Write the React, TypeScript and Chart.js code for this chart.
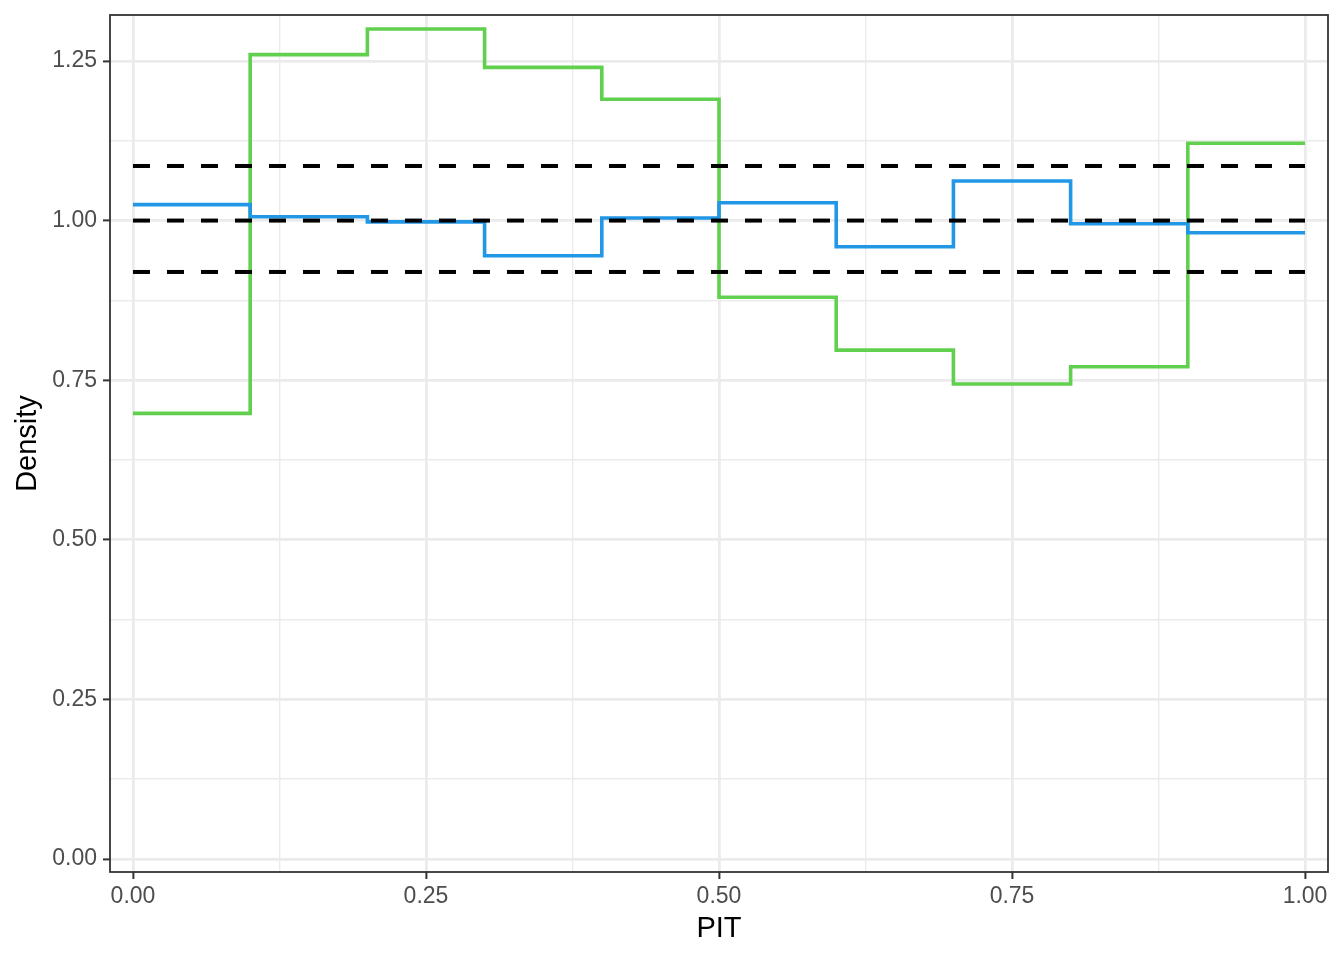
import React, { useEffect, useRef } from "react";
import { Chart, registerables } from "chart.js";

Chart.register(...registerables);

// Bin edges of the PIT histogram
const pitBreaks = [0, 0.1, 0.2, 0.3, 0.4, 0.5, 0.6, 0.7, 0.8, 0.9, 1.0];
// Densities per bin (10 bins)
const greenDensity = [0.698, 1.26, 1.30, 1.24, 1.19, 0.88, 0.797, 0.744, 0.771, 1.121];
const blueDensity = [1.025, 1.006, 0.998, 0.945, 1.004, 1.028, 0.959, 1.062, 0.995, 0.981];
// Reference lines
const refLevels = [1.0855, 1.0, 0.9195];

const xTicks = [0, 0.125, 0.25, 0.375, 0.5, 0.625, 0.75, 0.875, 1.0];
const yTicks = [0, 0.125, 0.25, 0.375, 0.5, 0.625, 0.75, 0.875, 1.0, 1.125, 1.25];

const isMajor = (v: number) => Math.abs(v / 0.25 - Math.round(v / 0.25)) < 1e-6;

function stepPoints(vals: number[]) {
  const pts = vals.map((v, i) => ({ x: pitBreaks[i], y: v }));
  pts.push({ x: pitBreaks[pitBreaks.length - 1], y: vals[vals.length - 1] });
  return pts;
}

const borderPlugin = {
  id: "panelBorder",
  afterDraw(chart: any) {
    const { ctx, chartArea } = chart;
    ctx.save();
    ctx.strokeStyle = "#333333";
    ctx.lineWidth = 1.8;
    ctx.strokeRect(chartArea.left, chartArea.top, chartArea.right - chartArea.left, chartArea.bottom - chartArea.top);
    ctx.restore();
  },
};

export default function App() {
  const ref = useRef<HTMLCanvasElement>(null);
  useEffect(() => {
    if (!ref.current) return;
    const tickFont = { family: "'Liberation Sans', Arial, sans-serif", size: 23 };
    const titleFont = { family: "'Liberation Sans', Arial, sans-serif", size: 29 };
    const gridCommon = {
      color: (c: any) => "#EBEBEB",
      lineWidth: (c: any) => (c.tick && isMajor(c.tick.value) ? 2.8 : 1.4),
      tickColor: (c: any) => (c.tick && isMajor(c.tick.value) ? "#333333" : "rgba(0,0,0,0)"),
      tickWidth: (c: any) => 2,
      tickLength: 7,
      drawOnChartArea: true,
      drawTicks: true,
    };
    const dashed = refLevels.map((v) => ({
      label: "ref " + v,
      data: [
        { x: 0, y: v },
        { x: 1, y: v },
      ],
      borderColor: "#000000",
      borderWidth: 4,
      borderDash: [17, 17],
      pointRadius: 0,
      fill: false,
    }));
    const chart = new Chart(ref.current, {
      type: "line",
      data: {
        datasets: [
          ...dashed,
          {
            label: "blue",
            data: stepPoints(blueDensity),
            borderColor: "#2297E6",
            borderWidth: 3.6,
            stepped: "before",
            pointRadius: 0,
            fill: false,
          },
          {
            label: "green",
            data: stepPoints(greenDensity),
            borderColor: "#61D04F",
            borderWidth: 3.6,
            stepped: "before",
            pointRadius: 0,
            fill: false,
          },
        ] as any,
      },
      options: {
        animation: false,
        responsive: false,
        devicePixelRatio: 1,
        layout: { padding: { left: 0, right: 16, top: 15, bottom: 0 } },
        plugins: { legend: { display: false }, tooltip: { enabled: false } },
        scales: {
          x: {
            type: "linear",
            min: -0.0196,
            max: 1.0196,
            afterBuildTicks: (s: any) => {
              s.ticks = xTicks.map((v) => ({ value: v }));
            },
            afterFit: (s: any) => {
              s.height = 88;
              s.paddingLeft = 0;
              s.paddingRight = 0;
              s.paddingTop = 0;
              s.paddingBottom = 0;
            },
            ticks: {
              autoSkip: false,
              maxRotation: 0,
              includeBounds: false,
              padding: 4,
              color: "#4D4D4D",
              font: tickFont,
              callback: (v: any) => (isMajor(Number(v)) ? Number(v).toFixed(2) : ""),
            },
            grid: gridCommon as any,
            border: { display: false },
            title: {
              display: true,
              text: "PIT",
              color: "#000000",
              font: titleFont,
              padding: { top: 0, bottom: 14 },
            },
          },
          y: {
            type: "linear",
            min: -0.0204,
            max: 1.322,
            afterBuildTicks: (s: any) => {
              s.ticks = yTicks.map((v) => ({ value: v }));
            },
            afterFit: (s: any) => {
              s.width = 110;
              s.paddingLeft = 0;
              s.paddingRight = 0;
              s.paddingTop = 0;
              s.paddingBottom = 0;
            },
            ticks: {
              autoSkip: false,
              includeBounds: false,
              padding: 6,
              color: "#4D4D4D",
              font: tickFont,
              callback: (v: any) => (isMajor(Number(v)) ? Number(v).toFixed(2) : ""),
            },
            grid: gridCommon as any,
            border: { display: false },
            title: {
              display: true,
              text: "Density",
              color: "#000000",
              font: titleFont,
              padding: { top: 11, bottom: 0 },
            },
          },
        },
      },
      plugins: [borderPlugin],
    });
    return () => chart.destroy();
  }, []);
  return (
    <div style={{ position: "absolute", left: 0, top: 0, width: 1344, height: 960, background: "#ffffff" }}>
      <canvas ref={ref} width={1344} height={960} style={{ display: "block" }} />
    </div>
  );
}
